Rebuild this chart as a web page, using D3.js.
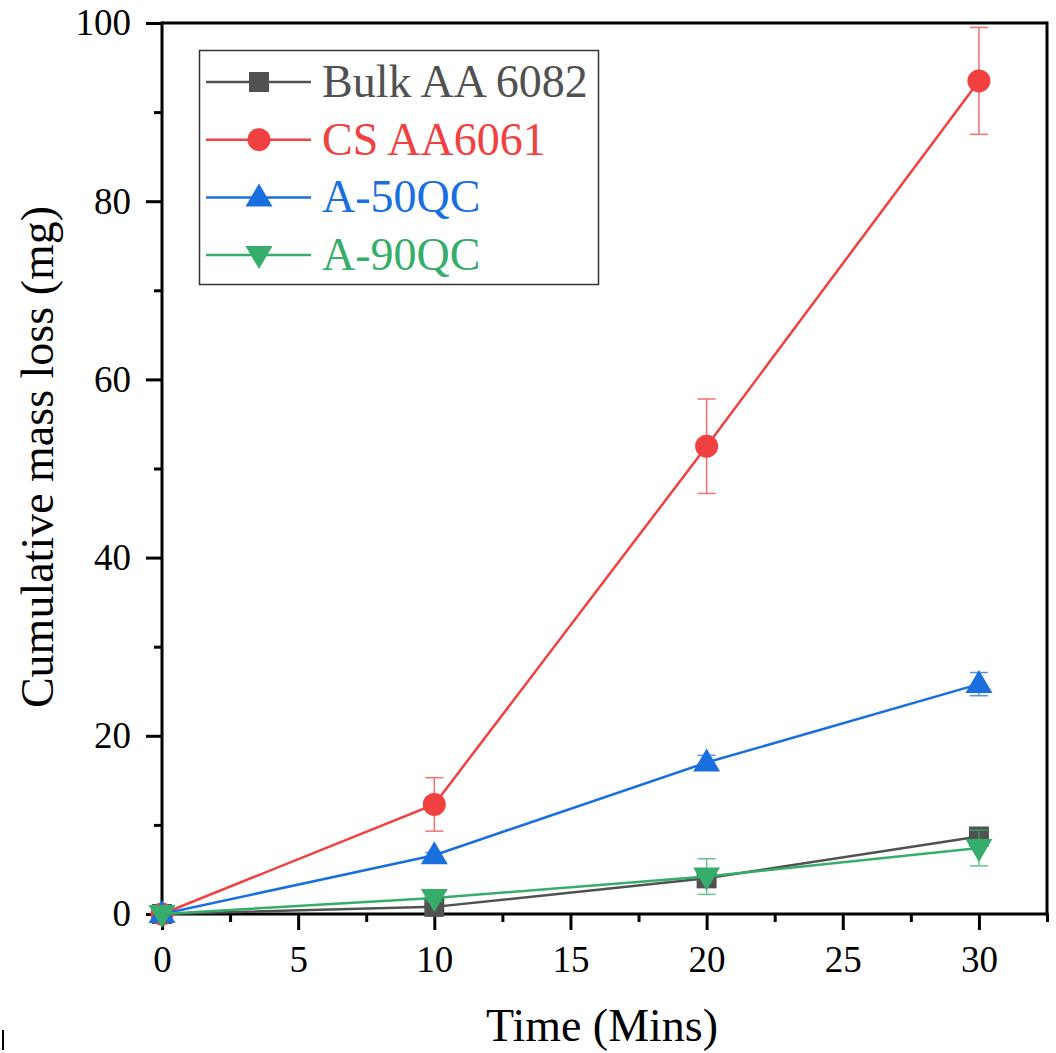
<!DOCTYPE html>
<html><head><meta charset="utf-8">
<script src="https://cdn.jsdelivr.net/npm/d3@7"></script>
<style>body{margin:0;background:#fff}svg{display:block}text{font-family:"Liberation Serif","Times New Roman",serif}</style>
</head><body>
<script>
const times = [0, 10, 20, 30];
const seriesNames = ["Bulk AA 6082", "CS AA6061", "A-50QC", "A-90QC"];
const seriesColors = ["#515151", "#F14040", "#1A6FDF", "#37AD6B"];
const seriesSymbols = ["square", "circle", "triUp", "triDown"];
const bulkValues = [0, 0.8, 4.0, 8.7];
const bulkErrors = [0, 0.3, 0.6, 0.5];
const csValues = [0, 12.3, 52.5, 93.5];
const csErrors = [0, 3.0, 5.3, 6.0];
const a50Values = [0, 6.6, 17.0, 25.8];
const a50Errors = [0, 0.3, 0.8, 1.3];
const a90Values = [0, 1.8, 4.2, 7.4];
const a90Errors = [0, 0.4, 2.0, 2.0];
const xTicks = [0, 5, 10, 15, 20, 25, 30];
const yTicks = [0, 20, 40, 60, 80, 100];

const W = 1056, H = 1053;
const m = {l: 162, r: 1047, t: 23, b: 914};
const svg = d3.select("body").append("svg").attr("width", W).attr("height", H);
const x = d3.scaleLinear().domain([0, 32.5]).range([m.l, m.r]);
const y = d3.scaleLinear().domain([0, 100]).range([m.b, m.t]);

const series = [
  {values: bulkValues, errors: bulkErrors},
  {values: csValues, errors: csErrors},
  {values: a50Values, errors: a50Errors},
  {values: a90Values, errors: a90Errors}
].map((s, i) => ({...s, name: seriesNames[i], color: seriesColors[i], sym: seriesSymbols[i]}));

function drawSymbol(g, sym, cx, cy, color) {
  if (sym === "square") {
    g.append("rect").attr("x", cx - 10).attr("y", cy - 10).attr("width", 20).attr("height", 20).attr("fill", color);
  } else if (sym === "circle") {
    g.append("circle").attr("cx", cx).attr("cy", cy).attr("r", 11.5).attr("fill", color);
  } else if (sym === "triUp") {
    g.append("path").attr("d", `M${cx},${cy-14}L${cx+13.5},${cy+9}L${cx-13.5},${cy+9}Z`).attr("fill", color);
  } else {
    g.append("path").attr("d", `M${cx},${cy+14}L${cx+13.5},${cy-9}L${cx-13.5},${cy-9}Z`).attr("fill", color);
  }
}

// axes frame
const frame = svg.append("g");
frame.append("line").attr("x1", m.l).attr("x2", m.r).attr("y1", m.t).attr("y2", m.t).attr("stroke", "#000").attr("stroke-width", 3);
frame.append("line").attr("x1", m.r).attr("x2", m.r).attr("y1", m.t - 1.5).attr("y2", m.b + 1.5).attr("stroke", "#000").attr("stroke-width", 3);

// x axis
const xAxis = d3.axisBottom(x).tickValues(xTicks).tickSize(16).tickPadding(16).tickFormat(d3.format("d"));
const gx = svg.append("g").attr("transform", `translate(0,${m.b})`).call(xAxis);
gx.select(".domain").attr("stroke-width", 3).attr("d", `M${m.l - 1.5},0H${m.r + 1.5}`);
gx.selectAll(".tick line").attr("stroke-width", 3);
gx.selectAll(".tick text").attr("font-size", 37).attr("fill", "#000");
const gxm = svg.append("g").attr("transform", `translate(0,${m.b})`)
  .call(d3.axisBottom(x).tickValues([2.5, 7.5, 12.5, 17.5, 22.5, 27.5, 32.5]).tickSize(8).tickFormat(""));
gxm.select(".domain").remove();
gxm.selectAll(".tick line").attr("stroke-width", 3);

// y axis
const yAxis = d3.axisLeft(y).tickValues(yTicks).tickSize(16).tickPadding(15).tickFormat(d3.format("d"));
const gy = svg.append("g").attr("transform", `translate(${m.l},0)`).call(yAxis);
gy.select(".domain").attr("stroke-width", 3).attr("d", `M0,${m.t - 1.5}V${m.b + 1.5}`);
gy.selectAll(".tick line").attr("stroke-width", 3);
gy.selectAll(".tick text").attr("font-size", 37).attr("fill", "#000");
const gym = svg.append("g").attr("transform", `translate(${m.l},0)`)
  .call(d3.axisLeft(y).tickValues([10, 30, 50, 70, 90]).tickSize(8).tickFormat(""));
gym.select(".domain").remove();
gym.selectAll(".tick line").attr("stroke-width", 3);

// titles
svg.append("text").attr("x", 602).attr("y", 1041).attr("text-anchor", "middle").attr("font-size", 46).text("Time (Mins)");
svg.append("text").attr("transform", `translate(53,457) rotate(-90)`).attr("text-anchor", "middle").attr("font-size", 46).text("Cumulative mass loss (mg)");

// stray mark bottom-left
svg.append("line").attr("x1", 3).attr("x2", 3).attr("y1", 1030).attr("y2", 1050).attr("stroke", "#000").attr("stroke-width", 2);

// series
const line = d3.line().x((d, i) => x(times[i])).y(d => y(d));
series.forEach(s => {
  const g = svg.append("g");
  g.append("path").datum(s.values).attr("d", line).attr("fill", "none").attr("stroke", s.color).attr("stroke-width", 2.5);
  s.values.forEach((v, i) => {
    const e = s.errors[i];
    if (e > 0) {
      const cx = x(times[i]);
      const eg = g.append("g").attr("stroke", s.color).attr("stroke-width", 1.5).attr("opacity", 0.75);
      eg.append("line").attr("x1", cx).attr("x2", cx).attr("y1", y(v + e)).attr("y2", y(v - e));
      eg.append("line").attr("x1", cx - 9).attr("x2", cx + 9).attr("y1", y(v + e)).attr("y2", y(v + e));
      eg.append("line").attr("x1", cx - 9).attr("x2", cx + 9).attr("y1", y(v - e)).attr("y2", y(v - e));
    }
  });
  s.values.forEach((v, i) => drawSymbol(g, s.sym, x(times[i]), y(v), s.color));
});

// legend
const lg = svg.append("g");
lg.append("rect").attr("x", 199.5).attr("y", 50.5).attr("width", 399).attr("height", 234).attr("fill", "#fff").attr("stroke", "#333").attr("stroke-width", 1.5);
series.forEach((s, i) => {
  const cy = 82 + i * 57.7;
  lg.append("line").attr("x1", 206).attr("x2", 311).attr("y1", cy).attr("y2", cy).attr("stroke", s.color).attr("stroke-width", 2.5);
  drawSymbol(lg, s.sym, 259, cy, s.color);
  lg.append("text").attr("x", 322).attr("y", cy + 15).attr("font-size", 46).attr("fill", s.color).text(s.name);
});
</script>
</body></html>
